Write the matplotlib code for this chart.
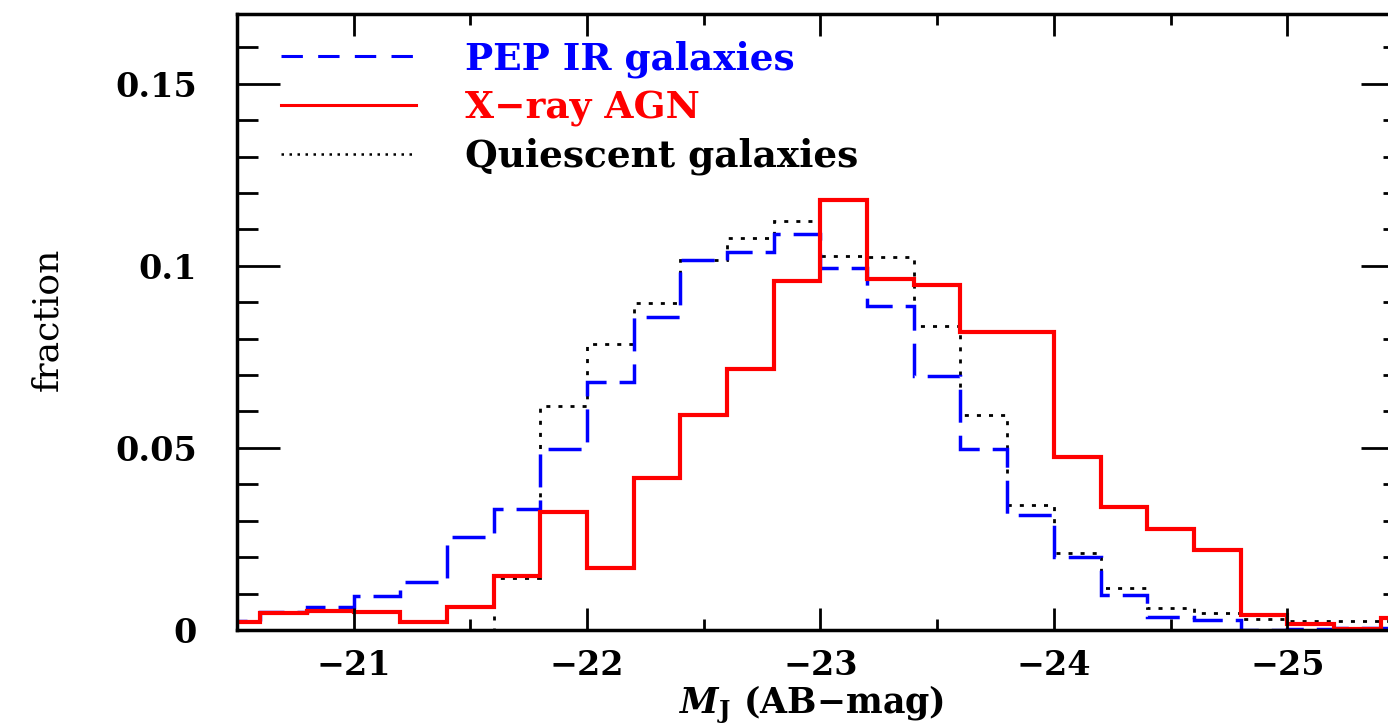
import matplotlib
matplotlib.use("Agg")
import matplotlib.pyplot as plt
from matplotlib.lines import Line2D
from matplotlib.ticker import MultipleLocator, FuncFormatter

# bin edges (M_J, AB mag), 0.2 mag bins
edges = [-20.4, -20.6, -20.8, -21.0, -21.2, -21.4, -21.6, -21.8, -22.0,
         -22.2, -22.4, -22.6, -22.8, -23.0, -23.2, -23.4, -23.6, -23.8,
         -24.0, -24.2, -24.4, -24.6, -24.8, -25.0, -25.2, -25.4, -25.6]

pep_ir = [0.0026, 0.0049, 0.0064, 0.0093, 0.0131, 0.0255, 0.0332, 0.0496,
          0.0680, 0.0859, 0.1016, 0.1037, 0.1088, 0.0994, 0.0890, 0.0698,
          0.0497, 0.0316, 0.0200, 0.0096, 0.0035, 0.0027, 0.0000, 0.0003,
          0.0005, 0.0005]

xray_agn = [0.0023, 0.0046, 0.0052, 0.0049, 0.0023, 0.0062, 0.0147, 0.0325,
            0.0169, 0.0417, 0.0591, 0.0717, 0.0957, 0.1181, 0.0964, 0.0948,
            0.0818, 0.0818, 0.0474, 0.0339, 0.0277, 0.0220, 0.0041, 0.0016,
            0.0002, 0.0032]

quiescent = [0.0, 0.0, 0.0, 0.0, 0.0, 0.0, 0.0142, 0.0614,
             0.0786, 0.0899, 0.1016, 0.1076, 0.1122, 0.1027, 0.1023, 0.0835,
             0.0591, 0.0343, 0.0212, 0.0116, 0.0060, 0.0046, 0.0030, 0.0026,
             0.0026, 0.0026]

labels = ["PEP IR galaxies", "X\u2212ray AGN", "Quiescent galaxies"]

plt.rcParams['font.family'] = ['DejaVu Serif']
plt.rcParams['mathtext.fontset'] = 'dejavuserif'

fig = plt.figure(figsize=(13.88, 7.24), dpi=100)
ax = fig.add_axes([0.1707, 0.1298, 0.8408, 0.8502])

ax.stairs(quiescent, edges, baseline=None, color='black', lw=2.0,
          linestyle=(0, (1.45, 2.9)))
ax.stairs(pep_ir, edges, baseline=None, color='blue', lw=2.5,
          linestyle=(0, (9.5, 3.75)))
ax.stairs(xray_agn, edges, baseline=None, color='red', lw=3.0)

ax.set_xlim(-20.5, -25.5)
ax.set_ylim(0, 0.169)

ax.xaxis.set_major_locator(MultipleLocator(1))
ax.xaxis.set_minor_locator(MultipleLocator(0.5))
ax.yaxis.set_major_locator(MultipleLocator(0.05))
ax.yaxis.set_minor_locator(MultipleLocator(0.01))
ax.yaxis.set_major_formatter(FuncFormatter(lambda v, p: "%g" % round(v, 3)))
ax.xaxis.set_major_formatter(FuncFormatter(lambda v, p: ("%g" % v).replace("-", "\u2212")))

ax.tick_params(axis='both', which='both', direction='in', top=True, right=True,
               width=2.0, colors='black')
ax.tick_params(axis='y', which='major', length=31, pad=29, labelsize=24)
ax.tick_params(axis='y', which='minor', length=15)
ax.tick_params(axis='x', which='major', length=16, pad=14, labelsize=24)
ax.tick_params(axis='x', which='minor', length=8)
for lab in ax.get_xticklabels() + ax.get_yticklabels():
    lab.set_fontweight('bold')
for s in ax.spines.values():
    s.set_linewidth(2.5)

ax.set_xlabel("$\\boldsymbol{M}_\\mathbf{J}$ (AB\u2212mag)", fontsize=25,
              fontweight='bold')
ax.xaxis.set_label_coords(0.4927, -0.086)
ax.set_ylabel("fraction", fontsize=26)
ax.yaxis.set_label_coords(-0.148, 0.504)

handles = [
    Line2D([], [], color='blue', lw=2.2, linestyle=(0, (7, 5))),
    Line2D([], [], color='red', lw=2.2),
    Line2D([], [], color='black', lw=1.8, linestyle=(0, (1, 2.2))),
]
ax.legend(handles, labels, loc='upper left', bbox_to_anchor=(0.038, 0.958),
          frameon=False, borderpad=0, borderaxespad=0, handlelength=3.6,
          handletextpad=1.3, labelspacing=0.3,
          prop={'size': 27, 'weight': 'bold'}, labelcolor='linecolor')

fig.savefig("out.png", dpi=100)
